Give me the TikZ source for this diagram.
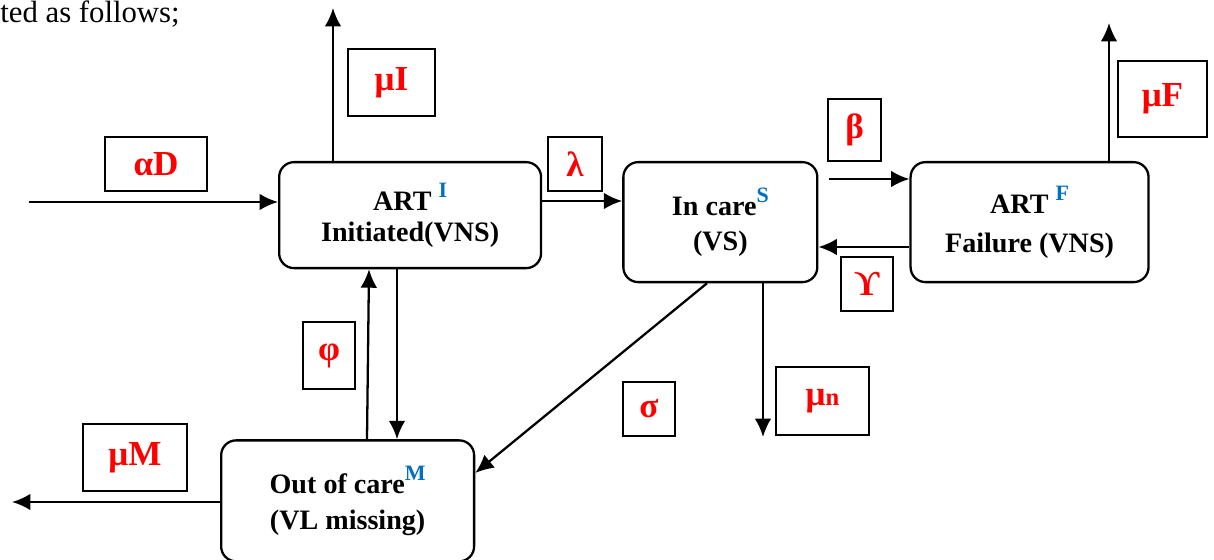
\documentclass[tikz,border=0pt]{standalone}
\usepackage{fontspec}
\setmainfont{Liberation Serif}
\usepackage{tikz}
\usetikzlibrary{positioning, arrows.meta}

\definecolor{supblue}{RGB}{0,112,192}
\newcommand{\stsup}[1]{\raisebox{7.4pt}{\fontsize{12.5}{12.5}\selectfont\color{supblue}#1}}

\tikzset{
  state/.style={draw, rounded corners=8.5pt, line width=1.3pt, align=center,
    inner sep=0pt, font=\fontsize{16}{18}\selectfont\bfseries},
  rate/.style={draw, line width=1.1pt, inner sep=0pt, text=red,
    font=\fontsize{20}{20}\selectfont\bfseries},
  flow/.style={->, line width=1.3pt}
}

\begin{document}
\begin{tikzpicture}[x=0.02cm, y=-0.02cm, >={Latex[length=10.5pt,width=9.5pt]}]
    \useasboundingbox (0,0) rectangle (1214,560);

    % Text of the page above the figure
    \node (cap) [anchor=base west, inner sep=0pt, font=\fontsize{17.5}{17.5}\selectfont] at (0,23) {ted as follows;};

    % Define nodes for the states (Each state is a rounded box)
    \node (arti) [state, minimum width=5.24cm, minimum height=2.12cm, anchor=north west] at (278,161) {ART \stsup{I}\\Initiated(VNS)};
    \node (incare) [state, minimum width=3.88cm, minimum height=2.4cm, right=1.6cm of arti.north east, anchor=north west] {In care\stsup{S}\\[2pt](VS)};
    \node (artf) [state, minimum width=4.76cm, minimum height=2.4cm, right=1.82cm of incare.north east, anchor=north west] {ART \stsup{F}\\[4pt]Failure (VNS)};
    \node (outc) [state, minimum width=5.06cm, minimum height=2.42cm, below left=3.4cm and 1.16cm of arti.south west, anchor=north west] {Out of care\stsup{M}\\[2pt](VL missing)};

    % Define the rates in boxes next to the arrows
    \node (aD) [rate, minimum width=2.04cm, minimum height=1.08cm] at (156,164) {αD};
    \node (muI) [rate, minimum width=1.74cm, minimum height=1.34cm] at (391.5,82.5) {μI};
    \node (lam) [rate, minimum width=1.08cm, minimum height=1.08cm] at (575,164) {λ};
    \node (beta) [rate, minimum width=1.06cm, minimum height=1.24cm] at (854.5,130) {β};
    \node (gam) [rate, minimum width=1.04cm, minimum height=1.08cm] at (867,284) {ϒ};
    \node (muF) [rate, minimum width=1.78cm, minimum height=1.52cm] at (1162.5,99) {μF};
    \node (phi) [rate, minimum width=1.04cm, minimum height=1.34cm] at (329,355.5) {φ};
    \node (sig) [rate, minimum width=1.04cm, minimum height=1.08cm] at (649,409) {σ};
    \node (mun) [rate, minimum width=1.86cm, minimum height=1.36cm] at (822.5,401) {μ{\fontsize{14}{14}\selectfont n}};
    \node (muM) [rate, minimum width=2.08cm, minimum height=1.34cm] at (135,457.5) {μM};

    % Free ends of the arrows
    \coordinate (inD) at (29,202);
    \coordinate (outI) at (333,8);
    \coordinate (outF) at (1109,23);
    \coordinate (outN) at (763,437);
    \coordinate (outM) at (12,502);

    % Draw arrows to indicate the flows between states
    \draw[flow] (inD) -- (inD -| arti.west);
    \draw[flow] (outI |- arti.north) -- (outI);
    \draw[flow] (arti.east |- 0,201) -- (incare.west |- 0,201);
    \draw[flow] (829,179) -- (artf.west |- 0,179);
    \draw[flow] (artf.west |- 0,247) -- (incare.east |- 0,247);
    \draw[flow] (outF |- artf.north) -- (outF);
    \draw[flow] (outc.north -| 367,0) -- (arti.south -| 369,0);
    \draw[flow] (arti.south -| 397,0) -- (outc.north -| 397,0);
    \draw[flow] (incare.south -| 707,0) -- (outc.east |- 0,473);
    \draw[flow] (incare.south -| outN) -- (outN);
    \draw[flow] (outc.west |- outM) -- (outM);

\end{tikzpicture}
\end{document}
